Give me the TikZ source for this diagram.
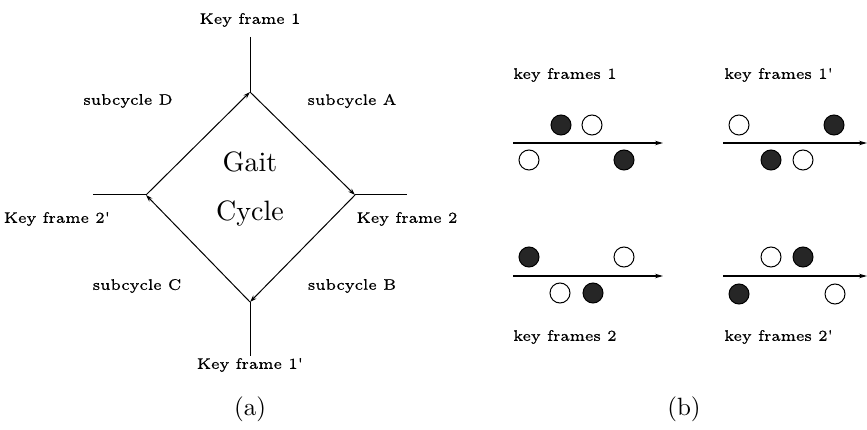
\documentclass[tikz,border=0pt]{standalone}
\usepackage{fontspec}
\newfontfamily\lmsix[FakeBold=0.6]{lmroman6-regular.otf}
\newfontfamily\lmten{lmroman10-regular.otf}
\usetikzlibrary{arrows.meta}
\begin{document}
\begin{tikzpicture}[x=1pt,y=-1pt,
  lbl/.style={inner sep=0pt, font=\lmsix\fontsize{15.3}{17}\selectfont},
  bigtxt/.style={inner sep=0pt, font=\lmten\fontsize{28}{31}\selectfont},
  subcap/.style={inner sep=0pt, font=\lmten\fontsize{25}{29}\selectfont},
  cycline/.style={line width=1pt, -{Stealth[length=7pt,width=4.5pt]}},
  plainline/.style={line width=1pt},
  axisline/.style={line width=1.1pt, -{Stealth[length=8pt,width=4.5pt]}},
  fullc/.style={circle, draw=black, fill=black!85, line width=1pt, minimum size=20pt, inner sep=0pt},
  openc/.style={circle, draw=black, fill=white, line width=1pt, minimum size=20pt, inner sep=0pt}]
\useasboundingbox (0,0) rectangle (867,430);
% ---------- (a) gait cycle ----------
\coordinate (T) at (250,92);
\coordinate (R) at (355,195);
\coordinate (B) at (250,302);
\coordinate (L) at (146,195);
\coordinate (Tend) at (250,37);
\coordinate (Rend) at (407,195);
\coordinate (Bend) at (250,356);
\coordinate (Lend) at (93,195);
\draw[plainline] (Tend) -- (T);
\draw[plainline] (R) -- (Rend);
\draw[plainline] (B) -- (Bend);
\draw[plainline] (Lend) -- (L);
\draw[cycline] (T) -- (R);
\draw[cycline] (R) -- (B);
\draw[cycline] (B) -- (L);
\draw[cycline] (L) -- (T);
\node[lbl] (kf1) at (250,20) {Key frame 1};
\node[lbl] (kf1p) at (250,365) {Key frame 1'};
\node[lbl] (kf2) at (407,219) {Key frame 2};
\node[lbl] (kf2p) at (57,219) {Key frame 2'};
\node[lbl] (sA) at (352,101) {subcycle A};
\node[lbl] (sB) at (352,286) {subcycle B};
\node[lbl] (sC) at (137,286) {subcycle C};
\node[lbl] (sD) at (128,101) {subcycle D};
\node[bigtxt] (gait) at (250,162) {Gait};
\node[bigtxt] (cycle) at (250,214) {Cycle};
\node[subcap] (capa) at (250,409) {(a)};
\node[subcap] (capb) at (684,409) {(b)};
% ---------- (b) key frames ----------
% panel 1
\node[lbl, anchor=west] (t1) at (513,75) {key frames 1};
\coordinate (a1s) at (513,143);
\coordinate (a1e) at (663,143);
\draw[axisline] (a1s) -- (a1e);
\node[fullc] (p1a) at (561,125) {};
\node[openc] (p1b) at (592,125) {};
\node[openc] (p1c) at (529,160) {};
\node[fullc] (p1d) at (624,160) {};
% panel 1'
\node[lbl, anchor=west] (t1p) at (724,75) {key frames 1'};
\coordinate (a2s) at (723,143);
\coordinate (a2e) at (867,143);
\draw[axisline] (a2s) -- (a2e);
\node[openc] (p2a) at (739,125) {};
\node[fullc] (p2b) at (834,125) {};
\node[fullc] (p2c) at (771,160) {};
\node[openc] (p2d) at (803,160) {};
% panel 2
\node[lbl, anchor=west] (t2) at (513,337) {key frames 2};
\coordinate (a3s) at (513,276);
\coordinate (a3e) at (663,276);
\draw[axisline] (a3s) -- (a3e);
\node[fullc] (p3a) at (529,257) {};
\node[openc] (p3b) at (624,257) {};
\node[openc] (p3c) at (560,293) {};
\node[fullc] (p3d) at (593,293) {};
% panel 2'
\node[lbl, anchor=west] (t2p) at (724,337) {key frames 2'};
\coordinate (a4s) at (723,276);
\coordinate (a4e) at (867,276);
\draw[axisline] (a4s) -- (a4e);
\node[openc] (p4a) at (771,257) {};
\node[fullc] (p4b) at (803,257) {};
\node[fullc] (p4c) at (739,294) {};
\node[openc] (p4d) at (835,294) {};
\end{tikzpicture}
\end{document}
